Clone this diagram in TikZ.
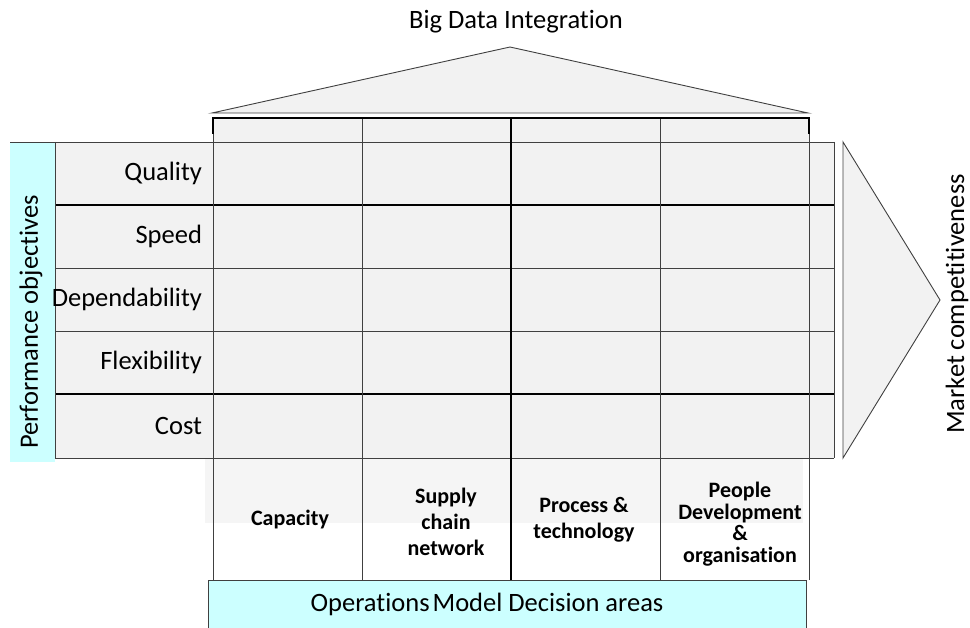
\documentclass[tikz,border=0pt]{standalone}
\usepackage{fontspec}
\setmainfont{Carlito}[Ligatures=NoCommon]
\definecolor{panelgray}{HTML}{F2F2F2}
\definecolor{labelcyan}{HTML}{CCFFFF}
\definecolor{linegray}{HTML}{404040}
\begin{document}
\begin{tikzpicture}[x=1pt,y=-1pt,
	every node/.style={font=\fontsize{26.5}{31}\selectfont,inner sep=0pt},
	area/.style={font=\bfseries\fontsize{22}{26}\selectfont,align=center},
	grid line/.style={draw=linegray,line width=0.9pt},
	heavy line/.style={draw=black,line width=1.6pt}]
		\useasboundingbox (0,0) rectangle (970,628);
		% roof and arrow
		\draw[linegray,line width=0.9pt,fill=panelgray] (212,113) -- (510,47) -- (808,113) -- cycle;
		\draw[linegray,line width=0.9pt,fill=panelgray] (843,142) -- (940,300) -- (843,458) -- cycle;
		\node (title) at (516,22) {Big Data Integration};
		% panels
		\fill[panelgray] (213,118) rectangle (809,142);
		\fill[panelgray] (55,142) rectangle (834,458);
		\fill[panelgray!80] (205,458) rectangle (803,523);
		\fill[labelcyan] (10,142) rectangle (55,462);
		% grid
		\draw[grid line] (10,142)--(834,142);
		\draw[grid line] \foreach \y in {268,331,458} {(55,\y)--(834,\y)};
		\draw[heavy line] \foreach \y in {205,394} {(55,\y)--(834,\y)};
		\draw[grid line] (55,142)--(55,458) (834,142)--(834,458);
		\draw[grid line] \foreach \x in {213,362,660,809} {(\x,118)--(\x,580)};
		\draw[heavy line] (511,118)--(511,580);
		\draw[heavy line] (213,134)--(213,118)--(809,118)--(809,134);
		% objectives
		\begin{scope}[every node/.style={font=\fontsize{26.5}{31}\selectfont,anchor=east}]
		\foreach \lab [count=\i] in {Quality,Speed,Dependability,Flexibility,Cost}
		\node (o\i) at (205.5,{110.5+63*\i}) {\lab};
		\end{scope}
		% decision areas
		\node[area] (d1) at (290,520) {Capacity};
		\node[area] (d2) at (446,522) {Supply\\chain\\network};
		\node[area] (d3) at (584,520) {Process \&\\technology};
		\node[area,font=\bfseries\fontsize{22}{21.5}\selectfont] (d4) at (740,524) {People\\Development\\\&\\organisation};
		\node[draw=linegray,fill=labelcyan,minimum width=598pt,minimum height=48pt] (areas) at (507,604) {};
		\node (areas text) at (487,604) {Operations\hspace{-3pt} Model Decision areas};
		% side labels
		\node[rotate=90] (perf) at (31,322) {Performance objectives};
		\node[rotate=90] (market) at (957,304) {Market competitiveness};
\end{tikzpicture}
\end{document}
